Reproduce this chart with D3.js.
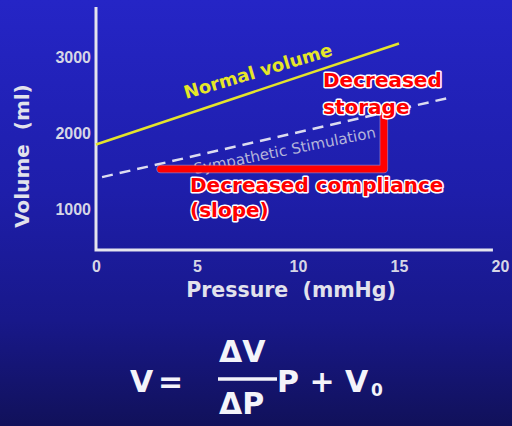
<!DOCTYPE html>
<html>
<head>
<meta charset="utf-8">
<script src="https://cdn.jsdelivr.net/npm/d3@7"></script>
<style>
  html, body { margin: 0; padding: 0; background: #14146a; }
  svg { display: block; }
</style>
</head>
<body>
<div id="chart"></div>
<script>
// values
const normalP = [0, 15];
const normalV = [1850, 3180];
const sympP = [0.3, 17.4];
const sympV = [1420, 2460];
const xTicks = [0, 5, 10, 15, 20];
const yTicks = [1000, 2000, 3000];
const bracketP = [3.2, 14.25, 14.25];
const bracketV = [1527, 1527, 2250];

const W = 512, H = 426;

const svg = d3.select("#chart").append("svg")
  .attr("width", W)
  .attr("height", H);

// blue slide background
const grad = svg.append("defs").append("linearGradient")
  .attr("id", "bg").attr("x1", 0).attr("y1", 0).attr("x2", 0).attr("y2", 1);
grad.append("stop").attr("offset", "0%").attr("stop-color", "#2525c6");
grad.append("stop").attr("offset", "45%").attr("stop-color", "#1e1eaa");
grad.append("stop").attr("offset", "75%").attr("stop-color", "#18188a");
grad.append("stop").attr("offset", "100%").attr("stop-color", "#11115a");
svg.append("rect").attr("width", W).attr("height", H).attr("fill", "url(#bg)");

var x = d3.scaleLinear().domain([0, 20]).range([96, 500]);
var y = d3.scaleLinear().domain([460, 3660]).range([250, 7]);
const xAxisEnd = 19.65;

// axes (ticks only, lines drawn below)
var gx = svg.append("g")
  .attr("transform", "translate(0," + y(460) + ")")
  .call(d3.axisBottom(x).tickValues(xTicks).tickSize(0).tickPadding(10.6));
var gy = svg.append("g")
  .attr("transform", "translate(" + x(0) + ",0)")
  .call(d3.axisLeft(y).tickValues(yTicks).tickFormat(d3.format("d")).tickSize(0).tickPadding(5));
[gx, gy].forEach(function(g) {
  g.select(".domain").remove();
  g.selectAll("text")
    .attr("fill", "#d6d6e6")
    .style("font-family", "'Liberation Sans', Arial, sans-serif")
    .style("font-weight", "bold")
    .style("font-size", "16px");
});

svg.append("path")
  .attr("d", d3.line()([[x(0), y(3660)], [x(0), y(460)], [x(xAxisEnd), y(460)]]))
  .attr("fill", "none")
  .attr("stroke", "#e4e4ee")
  .attr("stroke-width", 3);

// axis titles
svg.append("text")
  .attr("x", 291).attr("y", 297)
  .attr("text-anchor", "middle")
  .attr("fill", "#e2e2ec")
  .style("font-family", "'DejaVu Sans', sans-serif")
  .style("font-weight", "bold")
  .style("font-size", "20.5px")
  .text("Pressure\u00a0 (mmHg)");

svg.append("text")
  .attr("transform", "translate(29,156)rotate(-90)")
  .attr("text-anchor", "middle")
  .attr("fill", "#e2e2ec")
  .style("font-family", "'DejaVu Sans', sans-serif")
  .style("font-weight", "bold")
  .style("font-size", "20px")
  .text("Volume\u00a0 (ml)");

var line = d3.line()
  .x(function(d) { return x(d[0]); })
  .y(function(d) { return y(d[1]); });

// normal volume line
svg.append("path")
  .attr("d", line(d3.zip(normalP, normalV)))
  .attr("stroke", "#e4e42c")
  .attr("stroke-width", 2.5)
  .attr("fill", "none");

svg.append("text")
  .attr("transform", "translate(186,99)rotate(-16.5)")
  .attr("fill", "#e6e628")
  .style("font-family", "'DejaVu Sans', sans-serif")
  .style("font-weight", "bold")
  .style("font-size", "18px")
  .text("Normal volume");

// sympathetic stimulation line
svg.append("path")
  .attr("d", line(d3.zip(sympP, sympV)))
  .attr("stroke", "#dcdcf0")
  .attr("stroke-width", 2.5)
  .attr("stroke-dasharray", "11,7")
  .attr("fill", "none");

svg.append("text")
  .attr("transform", "translate(195,174)rotate(-11.5)")
  .attr("fill", "#b4b4da")
  .style("font-family", "'DejaVu Sans', sans-serif")
  .style("font-size", "15px")
  .text("Sympathetic Stimulation");

// red bracket
var bracket = d3.zip(bracketP, bracketV);
svg.append("path")
  .attr("d", line(bracket))
  .attr("fill", "none")
  .attr("stroke", "rgba(255,225,235,0.45)")
  .attr("stroke-width", 8.5)
  .attr("stroke-linecap", "round")
  .attr("stroke-linejoin", "round");
svg.append("path")
  .attr("d", line(bracket))
  .attr("fill", "none")
  .attr("stroke", "#ff0000")
  .attr("stroke-width", 7)
  .attr("stroke-linecap", "round")
  .attr("stroke-linejoin", "round");

function redText(tx, ty, s) {
  svg.append("text")
    .attr("x", tx).attr("y", ty)
    .attr("fill", "#ff0000")
    .attr("stroke", "#ffffff")
    .attr("stroke-width", 3)
    .attr("stroke-linejoin", "round")
    .attr("paint-order", "stroke")
    .style("font-family", "'DejaVu Sans', sans-serif")
    .style("font-weight", "bold")
    .style("font-size", "20px")
    .text(s);
}
redText(323, 87, "Decreased");
redText(323, 114, "storage");
redText(190, 192, "Decreased compliance");
redText(190, 217, "(slope)");

// equation
var eq = svg.append("g")
  .attr("fill", "#f4f4fa")
  .style("font-family", "'DejaVu Sans', sans-serif")
  .style("font-weight", "bold");
eq.append("text").attr("x", 130).attr("y", 392).style("font-size", "30px").text("V");
eq.append("text").attr("x", 158).attr("y", 392).style("font-size", "30px").text("=");
eq.append("text").attr("x", 219).attr("y", 362).style("font-size", "30px").text("\u0394V");
eq.append("text").attr("x", 219).attr("y", 414).style("font-size", "30px").text("\u0394P");
eq.append("line")
  .attr("x1", 218).attr("x2", 277)
  .attr("y1", 379).attr("y2", 379)
  .attr("stroke", "#f4f4fa")
  .attr("stroke-width", 3.5);
eq.append("text").attr("x", 277).attr("y", 392).style("font-size", "30px").text("P + V");
eq.append("text").attr("x", 371).attr("y", 396).style("font-size", "17px").text("0");
</script>
</body>
</html>
